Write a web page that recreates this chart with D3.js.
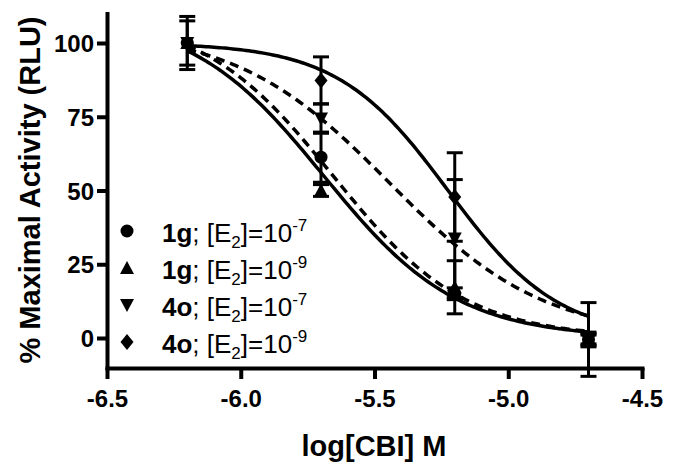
<!DOCTYPE html>
<html><head><meta charset="utf-8">
<script src="https://cdn.jsdelivr.net/npm/d3@7"></script>
<style>body{margin:0;background:#fff}svg{display:block}</style>
</head><body><svg id="c" width="676" height="472"></svg>
<script>
// ---- data ----
const logConc = [-6.2, -5.7, -5.2, -4.7];
const compound = ["1g", "1g", "4o", "4o"];
const e2Exp = ["-7", "-9", "-7", "-9"];
const vals_1g_e7 = [100, 61.3, 15, -0.5];
const err_1g_e7 = [7.5, 8.5, 2, 2];
const vals_1g_e9 = [100, 50, 17.2, 0];
const err_1g_e9 = [0, 2, 9, 2];
const vals_4o_e7 = [100, 74.4, 33.7, -1];
const err_4o_e7 = [0, 5, 20, 2];
const vals_4o_e9 = [100, 87.3, 47.8, -0.5];
const err_4o_e9 = [9, 8, 15, 12.5];
// sigmoidal dose-response fit parameters (per series)
const fitLogIC50 = [-5.655, -5.69, -5.443, -5.225];
const fitHill = [1.76, 1.74, 1.5, 2.1];
const fitTop = [110, 110, 105, 100];
const fitBottom = [0, 0, 0, 0];
const xTicks = [-6.5, -6.0, -5.5, -5.0, -4.5];
const xTickLabels = ["-6.5", "-6.0", "-5.5", "-5.0", "-4.5"];
const yTicks = [0, 25, 50, 75, 100];
const yTickLabels = ["0", "25", "50", "75", "100"];

const values = [vals_1g_e7, vals_1g_e9, vals_4o_e7, vals_4o_e9];
const errors = [err_1g_e7, err_1g_e9, err_4o_e7, err_4o_e9];
const markerTypes = ["circle", "up", "down", "diamond"];
const dashes = ["9,6", null, "9,6", null];

// ---- scales ----
const svg = d3.select("#c");
const x = d3.scaleLinear().domain([-6.5, -4.5]).range([107, 642]);
const y = d3.scaleLinear().domain([-10, 110]).range([367.5, 13.5]);
const FONT = "'Liberation Sans', Arial, sans-serif";

function markerPath(t) {
  if (t === "circle") return d3.arc()({innerRadius:0, outerRadius:6.5, startAngle:0, endAngle:2*Math.PI});
  if (t === "up") return "M0,-7L7,6L-7,6Z";
  if (t === "down") return "M0,7L7,-6L-7,-6Z";
  return "M0,-8L6.5,0L0,8L-6.5,0Z";
}

// ---- axes ----
const yAxis = svg.append("g").attr("transform", "translate(107,0)")
  .call(d3.axisLeft(y).tickValues(yTicks).tickFormat((d, i) => yTickLabels[i]).tickSize(10).tickSizeOuter(0).tickPadding(3));
const xAxis = svg.append("g").attr("transform", "translate(0,368)")
  .call(d3.axisBottom(x).tickValues(xTicks).tickFormat((d, i) => xTickLabels[i]).tickSize(11).tickSizeOuter(0).tickPadding(9));
[yAxis, xAxis].forEach(a => {
  a.select(".domain").attr("stroke", "#000").attr("stroke-width", 4).attr("stroke-linecap", "square");
  a.selectAll(".tick line").attr("stroke", "#000").attr("stroke-width", 4);
  a.selectAll(".tick text").attr("fill", "#000").style("font-family", FONT).style("font-weight", "bold").style("font-size", "24px");
});
yAxis.selectAll(".tick text").attr("dy", "0.36em");
xAxis.selectAll(".tick text").attr("dy", "0.78em");

// ---- axis titles ----
svg.append("text").attr("transform", "translate(40,190) rotate(-90)").attr("text-anchor", "middle")
  .style("font-family", FONT).style("font-weight", "bold").style("font-size", "29px").text("% Maximal Activity (RLU)");
svg.append("text").attr("x", 374).attr("y", 456).attr("text-anchor", "middle")
  .style("font-family", FONT).style("font-weight", "bold").style("font-size", "29px").text("log[CBI] M");

// ---- fitted curves ----
const xs = d3.range(logConc[0], logConc[logConc.length - 1] + 0.0001, 0.01);
const line = d3.line().x(d => x(d[0])).y(d => y(d[1])).curve(d3.curveLinear);
values.forEach((v, i) => {
  const pts = xs.map(lx => [lx, fitBottom[i] + (fitTop[i] - fitBottom[i]) / (1 + Math.pow(10, (lx - fitLogIC50[i]) * fitHill[i]))]);
  svg.append("path").attr("d", line(pts)).attr("fill", "none").attr("stroke", "#000")
    .attr("stroke-width", 3.5).attr("stroke-dasharray", dashes[i]);
});

// ---- error bars ----
values.forEach((v, i) => {
  v.forEach((val, j) => {
    const e = errors[i][j];
    if (!e) return;
    const cx = x(logConc[j]);
    const g = svg.append("g").attr("stroke", "#000").attr("stroke-width", 3);
    g.append("line").attr("x1", cx).attr("x2", cx).attr("y1", y(val + e)).attr("y2", y(val - e));
    [val + e, val - e].forEach(t => g.append("line").attr("x1", cx - 8).attr("x2", cx + 8).attr("y1", y(t)).attr("y2", y(t)));
  });
});

// ---- markers ----
values.forEach((v, i) => {
  svg.append("g").selectAll("path").data(v).join("path")
    .attr("transform", (d, j) => `translate(${x(logConc[j])},${y(d)})`)
    .attr("d", markerPath(markerTypes[i])).attr("fill", "#000");
});

// ---- legend ----
const legBase = [242, 279, 316, 353];
values.forEach((v, i) => {
  svg.append("path").attr("transform", `translate(127,${legBase[i] - 11})`).attr("d", markerPath(markerTypes[i])).attr("fill", "#000");
  const t = svg.append("text").attr("x", 162).attr("y", legBase[i]).style("font-family", FONT).style("font-size", "26px").attr("fill", "#000");
  t.append("tspan").style("font-weight", "bold").text(compound[i]);
  t.append("tspan").text("; [E");
  t.append("tspan").attr("dy", 6).style("font-size", "17px").text("2");
  t.append("tspan").attr("dy", -6).text("]=10");
  t.append("tspan").attr("dy", -11).style("font-size", "17px").text(e2Exp[i]);
});
</script></body></html>
